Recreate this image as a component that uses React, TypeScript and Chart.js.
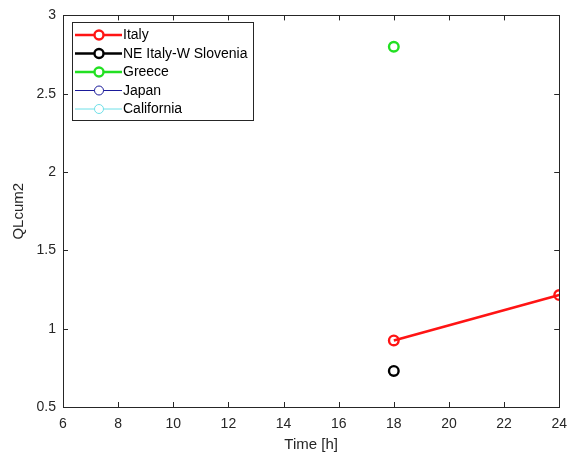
import React, { useEffect, useRef } from "react";
import { Chart, registerables } from "chart.js";

Chart.register(...registerables);

const seriesNames = ["Italy", "NE Italy-W Slovenia", "Greece", "Japan", "California"];
const seriesColors = ["#ff1414", "#000000", "#22e022", "#1a1a9a", "#6fe0e8"];
const seriesLineWidths = [2.5, 2.5, 2.5, 1, 1];
const italyTimes = [18, 24];
const italyValues = [0.925, 1.215];
const sloveniaTimes = [18];
const sloveniaValues = [0.73];
const greeceTimes = [18];
const greeceValues = [2.8];
const japanTimes: number[] = [];
const japanValues: number[] = [];
const californiaTimes: number[] = [];
const californiaValues: number[] = [];
const xTicks = [6, 8, 10, 12, 14, 16, 18, 20, 22, 24];
const yTicks = [0.5, 1, 1.5, 2, 2.5, 3];
const yTickLabels = ["0.5", "1", "1.5", "2", "2.5", "3"];

const toPoints = (xs: number[], ys: number[]) => xs.map((x, i) => ({ x, y: ys[i] }));

const FONT = "Liberation Sans, Arial, sans-serif";
const TXT = "#262626";

const boxPlugin = {
  id: "matlabBox",
  afterDatasetsDraw(chart: any) {
    const { ctx, chartArea: a, scales } = chart;
    ctx.save();
    ctx.strokeStyle = TXT;
    ctx.lineWidth = 1;
    ctx.beginPath();
    const tl = 5;
    xTicks.forEach((t) => {
      const x = Math.round(scales.x.getPixelForValue(t)) + 0.5;
      ctx.moveTo(x, a.bottom);
      ctx.lineTo(x, a.bottom - tl);
      ctx.moveTo(x, a.top);
      ctx.lineTo(x, a.top + tl);
    });
    yTicks.forEach((t) => {
      const y = Math.round(scales.y.getPixelForValue(t)) + 0.5;
      ctx.moveTo(a.left, y);
      ctx.lineTo(a.left + tl, y);
      ctx.moveTo(a.right, y);
      ctx.lineTo(a.right - tl, y);
    });
    ctx.stroke();
    ctx.strokeRect(Math.round(a.left) + 0.5, Math.round(a.top) + 0.5, Math.round(a.right - a.left), Math.round(a.bottom - a.top));

    // legend
    const lx = 72, ly = 22, lw = 181, lh = 98;
    ctx.fillStyle = "#ffffff";
    ctx.fillRect(lx, ly, lw, lh);
    ctx.strokeStyle = TXT;
    ctx.lineWidth = 1;
    ctx.strokeRect(lx + 0.5, ly + 0.5, lw, lh);
    chart.data.datasets.forEach((ds: any, i: number) => {
      const cy = 35 + i * 18.5;
      ctx.strokeStyle = ds.borderColor;
      ctx.lineWidth = ds.borderWidth;
      ctx.beginPath();
      ctx.moveTo(75, cy);
      ctx.lineTo(122, cy);
      ctx.stroke();
      ctx.lineWidth = ds.pointBorderWidth;
      ctx.fillStyle = "#ffffff";
      ctx.beginPath();
      ctx.arc(99, cy, 4.5, 0, Math.PI * 2);
      ctx.fill();
      ctx.stroke();
      ctx.fillStyle = "#000000";
      ctx.font = `14px ${FONT}`;
      ctx.textBaseline = "middle";
      ctx.textAlign = "left";
      ctx.fillText(ds.label, 123, cy + 0.5);
    });
    ctx.restore();
  },
};

export default function App() {
  const ref = useRef<HTMLCanvasElement>(null);
  useEffect(() => {
    document.body.style.margin = "0";
    const data = [
      toPoints(italyTimes, italyValues),
      toPoints(sloveniaTimes, sloveniaValues),
      toPoints(greeceTimes, greeceValues),
      toPoints(japanTimes, japanValues),
      toPoints(californiaTimes, californiaValues),
    ];
    const chart = new Chart(ref.current!, {
      type: "scatter",
      data: {
        datasets: seriesNames.map((name, i) => ({
          label: name,
          data: data[i],
          showLine: true,
          borderColor: seriesColors[i],
          backgroundColor: "rgba(0,0,0,0)",
          borderWidth: seriesLineWidths[i],
          pointBorderWidth: seriesLineWidths[i] > 1 ? 2.4 : 1,
          pointRadius: 4.8,
          pointHoverRadius: 4.8,
          pointBackgroundColor: "rgba(0,0,0,0)",
          pointBorderColor: seriesColors[i],
        })),
      },
      options: {
        animation: false,
        responsive: false,
        events: [],
        layout: { padding: { top: 15, right: 16, left: 0, bottom: 0 } },
        plugins: { legend: { display: false }, tooltip: { enabled: false } },
        scales: {
          x: {
            type: "linear",
            min: 6,
            max: 24,
            afterFit: (s: any) => { s.height = 54; },
            afterBuildTicks: (s: any) => { s.ticks = xTicks.map((v) => ({ value: v })); },
            grid: { display: false, drawTicks: false },
            border: { display: false },
            ticks: { color: TXT, font: { family: FONT, size: 14 }, padding: 9 },
            title: { display: true, text: "Time [h]", color: TXT, font: { family: FONT, size: 15 }, padding: { top: 2, bottom: 7 } },
          },
          y: {
            type: "linear",
            min: 0.5,
            max: 3,
            afterFit: (s: any) => { s.width = 63; },
            afterBuildTicks: (s: any) => { s.ticks = yTicks.map((v) => ({ value: v })); },
            grid: { display: false, drawTicks: false },
            border: { display: false },
            ticks: {
              color: TXT,
              font: { family: FONT, size: 14 },
              padding: 7,
              callback: (_v: any, i: number) => yTickLabels[i],
            },
            title: { display: true, text: "QLcum2", color: TXT, font: { family: FONT, size: 15 }, padding: { top: 10, bottom: 0 } },
          },
        },
      },
      plugins: [boxPlugin],
    });
    return () => chart.destroy();
  }, []);
  return <canvas ref={ref} width={576} height={461} style={{ display: "block" }} />;
}
